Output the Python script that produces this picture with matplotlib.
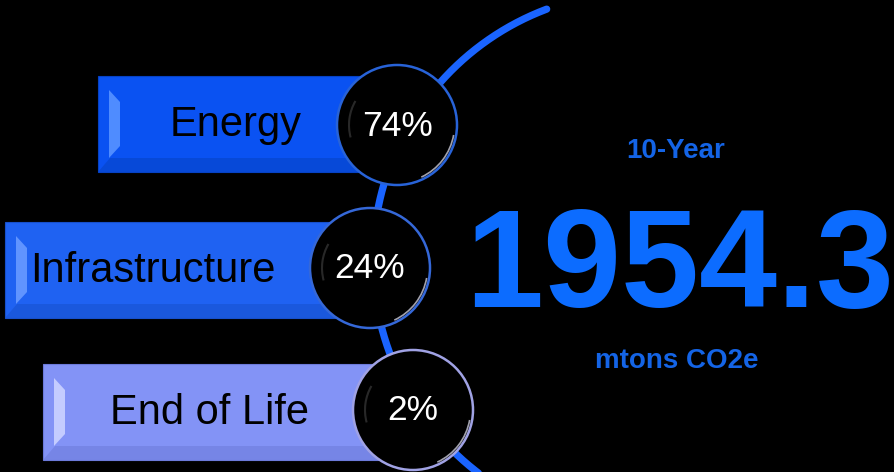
import numpy as np
import matplotlib.pyplot as plt
from matplotlib.patches import Rectangle, Polygon, Circle, Arc

plt.rcParams['font.family'] = ['Liberation Sans', 'DejaVu Sans']

# chart data
categories = ['Energy', 'Infrastructure', 'End of Life']
shares = [74, 24, 2]
total = 1954.3
total_label = '10-Year'
unit = 'mtons CO2e'

# layout (pixels, figure is 894 x 472)
bar_left = [98, 5, 43]
bar_top = [76, 222, 364]
bar_height = 96
circ_x = [397, 370, 413]
circ_y = [125, 268, 410]
circ_r = 60
label_x = [236, 30, 210]
label_ha = ['center', 'left', 'center']
bar_colors = ['#0A52F2', '#1F62F2', '#8393F6']
light_colors = ['#4F8CFF', '#6094FF', '#C4CCFF']
dark_colors = ['#0642C4', '#1750CC', '#6C7ADA']
ring_colors = ['#2863D8', '#3568D8', '#A0A2E4']

fig = plt.figure(figsize=(8.94, 4.72), dpi=100, facecolor='black')
ax = fig.add_axes([0, 0, 1, 1])
ax.set_facecolor('black')
ax.set_xlim(0, 894)
ax.set_ylim(472, 0)
ax.axis('off')

# big arc behind the circles
theta = np.radians(np.linspace(110.6, 242, 300))
ax.plot(641 + 268 * np.cos(theta), 260 - 268 * np.sin(theta),
        color='#1A64FF', lw=5.2, solid_capstyle='round', zorder=1)

for i, name in enumerate(categories):
    x0, y0, h = bar_left[i], bar_top[i], bar_height
    w = circ_x[i] - x0
    ax.add_patch(Rectangle((x0, y0), w, h, facecolor=bar_colors[i],
                           edgecolor=dark_colors[i], lw=0.8, zorder=2))
    # bottom shade
    ax.add_patch(Polygon([(x0, y0 + h), (x0 + 12, y0 + h - 14),
                          (x0 + w, y0 + h - 14), (x0 + w, y0 + h)],
                         closed=True, facecolor=dark_colors[i], lw=0, alpha=0.55, zorder=2))
    # left bevel highlight
    ax.add_patch(Polygon([(x0 + 11, y0 + 14), (x0 + 22, y0 + 26),
                          (x0 + 22, y0 + h - 26), (x0 + 11, y0 + h - 14)],
                         closed=True, facecolor=light_colors[i], lw=0, zorder=3))
    ax.text(label_x[i], y0 + h / 2 + 1, name, ha=label_ha[i], va='center',
            fontsize=30, color='black', zorder=4)

    # circle badge
    cx, cy = circ_x[i], circ_y[i]
    ax.add_patch(Circle((cx, cy), circ_r, facecolor='black',
                        edgecolor=ring_colors[i], lw=1.8, zorder=5))
    ax.add_patch(Arc((cx, cy), 2 * circ_r - 5, 2 * circ_r - 5, theta1=10, theta2=65,
                     color='#D8D8E8', lw=1.2, alpha=0.75, zorder=6))
    ax.add_patch(Arc((cx, cy), 2 * circ_r - 24, 2 * circ_r - 24, theta1=165, theta2=210,
                     color='#3A3A3A', lw=1.5, alpha=0.7, zorder=6))
    ax.text(cx, cy + 1, f'{shares[i]}%', ha='center', va='center',
            fontsize=25.5, color='white', zorder=7)

# headline total
ax.text(676, 158, total_label, ha='center', va='baseline', fontsize=20,
        fontweight='bold', color='#1464E6')
ax.text(679.5, 307, f'{total:.1f}', ha='center', va='baseline', fontsize=101,
        fontweight='bold', color='#0C6CFF')
ax.text(677, 368, unit, ha='center', va='baseline', fontsize=20,
        fontweight='bold', color='#1464E6')

fig.savefig('out.png', dpi=100, facecolor='black')
